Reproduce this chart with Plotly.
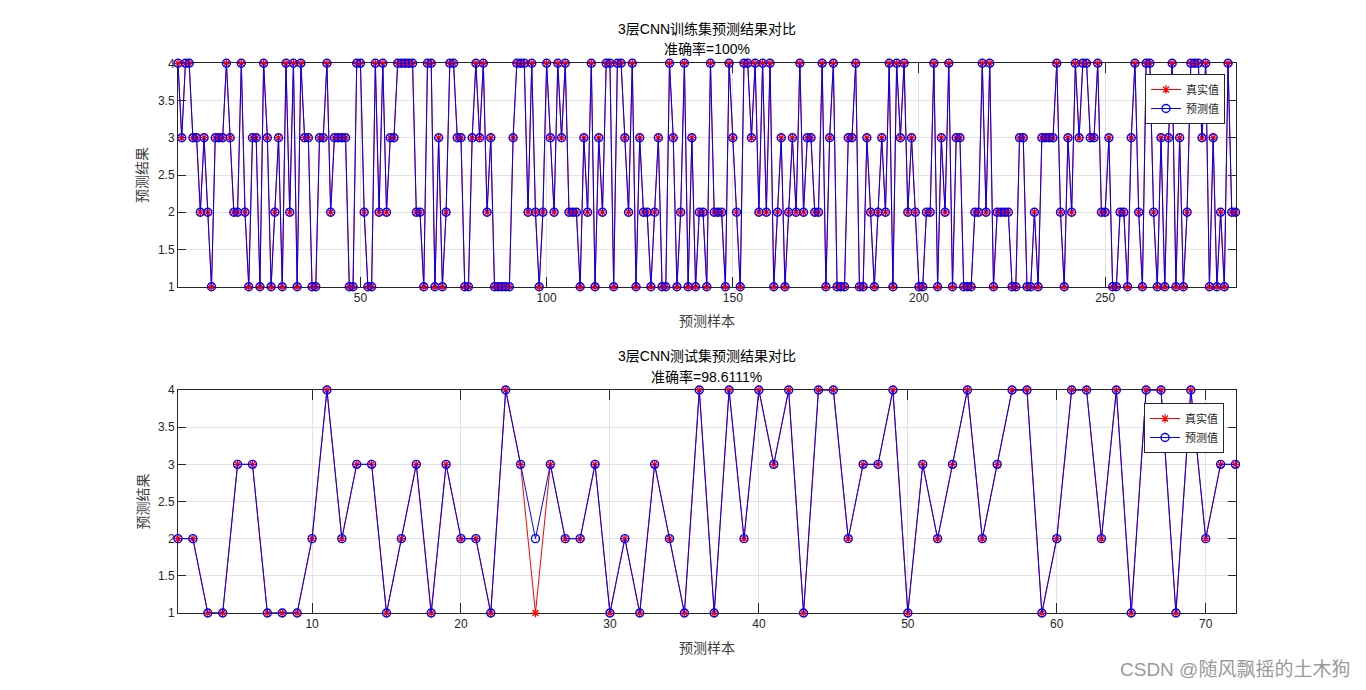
import plotly.graph_objects as go

# ---------------- data ----------------
train_true = [
    4, 3, 4, 4, 3, 3, 2, 3, 2, 1, 3, 3, 3, 4, 3, 2, 2, 4, 2, 1,
    3, 3, 1, 4, 3, 1, 2, 3, 1, 4, 2, 4, 1, 4, 3, 3, 1, 1, 3, 3,
    4, 2, 3, 3, 3, 3, 1, 1, 4, 4, 2, 1, 1, 4, 2, 4, 2, 3, 3, 4,
    4, 4, 4, 4, 2, 2, 1, 4, 4, 1, 3, 1, 2, 4, 4, 3, 3, 1, 1, 3,
    4, 3, 4, 2, 3, 1, 1, 1, 1, 1, 3, 4, 4, 4, 2, 4, 2, 1, 2, 4,
    3, 2, 4, 3, 4, 2, 2, 2, 1, 3, 2, 4, 1, 3, 2, 4, 4, 1, 4, 4,
    3, 2, 4, 1, 3, 2, 2, 1, 2, 3, 1, 1, 4, 3, 1, 2, 4, 1, 3, 1,
    2, 2, 1, 4, 2, 2, 2, 1, 4, 3, 2, 1, 4, 4, 3, 4, 2, 4, 2, 4,
    1, 2, 3, 1, 2, 3, 2, 4, 2, 3, 3, 2, 2, 4, 1, 3, 4, 1, 1, 1,
    3, 3, 4, 1, 1, 3, 2, 1, 2, 3, 2, 4, 1, 4, 3, 4, 2, 3, 2, 1,
    1, 2, 2, 4, 1, 3, 2, 4, 1, 3, 3, 1, 1, 1, 2, 2, 4, 2, 4, 1,
    2, 2, 2, 2, 1, 1, 3, 3, 1, 1, 2, 1, 3, 3, 3, 3, 4, 2, 1, 3,
    2, 4, 3, 4, 4, 3, 3, 4, 2, 2, 3, 1, 1, 2, 2, 1, 3, 4, 2, 1,
    4, 4, 2, 1, 3, 1, 3, 4, 1, 3, 1, 2, 4, 4, 4, 3, 4, 1, 3, 1,
    2, 1, 4, 2, 2,
]
train_pred = list(train_true)  # 准确率=100%

test_true = [
    2, 2, 1, 1, 3, 3, 1, 1, 1, 2, 4, 2, 3, 3, 1, 2, 3, 1, 3, 2,
    2, 1, 4, 3, 1, 3, 2, 2, 3, 1, 2, 1, 3, 2, 1, 4, 1, 4, 2, 4,
    3, 4, 1, 4, 4, 2, 3, 3, 4, 1, 3, 2, 3, 4, 2, 3, 4, 4, 1, 2,
    4, 4, 2, 4, 1, 4, 4, 1, 4, 2, 3, 3,
]
test_pred = [
    2, 2, 1, 1, 3, 3, 1, 1, 1, 2, 4, 2, 3, 3, 1, 2, 3, 1, 3, 2,
    2, 1, 4, 3, 2, 3, 2, 2, 3, 1, 2, 1, 3, 2, 1, 4, 1, 4, 2, 4,
    3, 4, 1, 4, 4, 2, 3, 3, 4, 1, 3, 2, 3, 4, 2, 3, 4, 4, 1, 2,
    4, 4, 2, 4, 1, 4, 4, 1, 4, 2, 3, 3,
]

train_title = "3层CNN训练集预测结果对比"
train_acc = "准确率=100%"
test_title = "3层CNN测试集预测结果对比"
test_acc = "准确率=98.6111%"
x_label = "预测样本"
y_label = "预测结果"
legend_names = ["真实值", "预测值"]
train_xticks = [50, 100, 150, 200, 250]
test_xticks = [10, 20, 30, 40, 50, 60, 70]
yticks = [1, 1.5, 2, 2.5, 3, 3.5, 4]
watermark = "CSDN @随风飘摇的土木狗"

# ---------------- figure ----------------
W, H = 1366, 690
LAT = "Liberation Sans, Arial, Noto Sans CJK SC, sans-serif"
CJK = "Noto Sans CJK SC, sans-serif"
AX = "#262626"

def px(x):
    return x / W

def py(y):
    return 1 - y / H

fig = go.Figure()

def add_pair(x, yt, yp, xa, ya, leg):
    fig.add_trace(go.Scatter(
        x=x, y=yt, xaxis=xa, yaxis=ya, mode="lines+markers", name=legend_names[0],
        legend=leg, cliponaxis=False,
        line=dict(color="#ff0000", width=1),
        marker=dict(symbol="asterisk-open", size=7, color="#ff0000",
                    line=dict(color="#ff0000", width=1.2)),
    ))
    fig.add_trace(go.Scatter(
        x=x, y=yp, xaxis=xa, yaxis=ya, mode="lines+markers", name=legend_names[1],
        legend=leg, cliponaxis=False,
        line=dict(color="#0000ff", width=1),
        marker=dict(symbol="circle-open", size=8, color="#0000ff",
                    line=dict(color="#0000ff", width=1.4)),
    ))

n_train = len(train_true)
n_test = len(test_true)
add_pair(list(range(1, n_train + 1)), train_true, train_pred, "x", "y", "legend")
add_pair(list(range(1, n_test + 1)), test_true, test_pred, "x2", "y2", "legend2")

xdom = [px(178), px(1235.5)]
common_axis = dict(
    showline=True, linecolor=AX, linewidth=1, mirror="ticks",
    ticks="inside", tickcolor=AX, tickwidth=1,
    showgrid=True, gridcolor="#e3e3e3", gridwidth=1,
    zeroline=False, layer="below traces", automargin=False,
    tickfont=dict(family=LAT, size=12, color=AX),
)

fig.update_layout(
    width=W, height=H, margin=dict(l=0, r=0, t=0, b=0, pad=0, autoexpand=False),
    paper_bgcolor="white", plot_bgcolor="white",
    showlegend=True,
    xaxis=dict(domain=xdom, range=[1, n_train], tickvals=train_xticks, ticklen=10,
               anchor="y", **common_axis),
    yaxis=dict(domain=[py(286.7), py(63.3)], range=[1, 4], tickvals=yticks, ticklen=8,
               anchor="x", **common_axis),
    xaxis2=dict(domain=xdom, range=[1, n_test], tickvals=test_xticks, ticklen=10,
                anchor="y2", **common_axis),
    yaxis2=dict(domain=[py(613), py(390)], range=[1, 4], tickvals=yticks, ticklen=8,
                anchor="x2", **common_axis),
    legend=dict(x=px(1225), y=py(74), xanchor="right", yanchor="top",
                bgcolor="white", bordercolor=AX, borderwidth=1,
                font=dict(family=CJK, size=11, color=AX), tracegroupgap=0,
                itemwidth=30),
    legend2=dict(x=px(1224), y=py(403), xanchor="right", yanchor="top",
                 bgcolor="white", bordercolor=AX, borderwidth=1,
                 font=dict(family=CJK, size=11, color=AX), tracegroupgap=0,
                 itemwidth=30),
)

ann = []
def text(t, x, y, size, color="#000000", angle=0, family=LAT, xanchor="center"):
    ann.append(dict(text=t, x=x, y=y, xref="paper", yref="paper", showarrow=False,
                    xanchor=xanchor, yanchor="middle", textangle=angle,
                    font=dict(family=family, size=size, color=color)))

cx = (xdom[0] + xdom[1]) / 2
text(train_title, cx, py(29), 14)
text(train_acc, cx, py(49), 14)
text(test_title, cx, py(356), 14)
text(test_acc, cx, py(377), 14)
text(x_label, cx, py(320), 14, color="#404040", family=CJK)
text(x_label, cx, py(647), 14, color="#404040", family=CJK)
text(y_label, px(141), py(175), 14, color="#404040", angle=-90, family=CJK)
text(y_label, px(141), py(501.5), 14, color="#404040", angle=-90, family=CJK)
text(watermark, px(1352), py(669), 19, color="#9a9a9a", xanchor="right")
fig.update_layout(annotations=ann)

fig.write_html(
    "out.html",
    post_script="document.body.style.margin='0px';document.body.style.overflow='hidden';",
)
